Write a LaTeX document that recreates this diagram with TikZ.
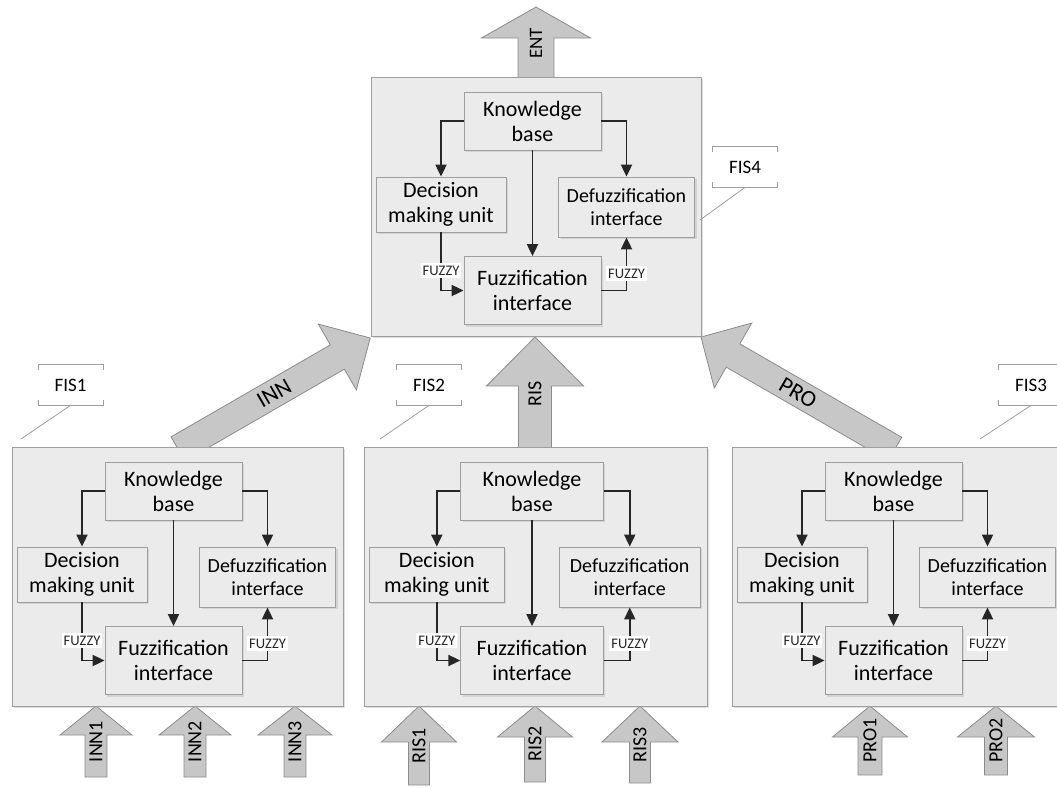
\documentclass[tikz,border=0pt]{standalone}
\usepackage{fontspec}
\setmainfont{Carlito}
\usetikzlibrary{arrows.meta,positioning,shadows}

\begin{document}
\begin{tikzpicture}[x=0.5pt, y=-0.5pt, >={Triangle[length=6pt,width=5.5pt]},
  fisbox/.style={draw=black!38, fill=black!8, anchor=north west, inner sep=0pt, minimum height=129.5pt,
    drop shadow={shadow xshift=1pt, shadow yshift=-1pt, fill=black!30, opacity=0.4}},
  unit/.style={draw=black!38, fill=black!8, align=center, inner sep=1pt, font=\fontsize{11}{12.5}\selectfont,
    drop shadow={shadow xshift=1pt, shadow yshift=-1pt, fill=black!30, opacity=0.4}},
  flow/.style={->, line width=0.95pt, black!85},
  fuzzy/.style={fill=white, inner xsep=1pt, inner ysep=1.5pt, font=\fontsize{7.3}{8}\selectfont},
  tag/.style={minimum width=32pt, minimum height=20pt, inner sep=0pt, font=\fontsize{9.5}{11}\selectfont},
  tagline/.style={draw=black!38, thin},
  fatarrow/.style={draw=black!45, fill=black!22, line join=miter}]
\useasboundingbox (0,0) rectangle (1057,788);

% block arrows between the systems and the inputs
\foreach \tx/\ty/\ang/\len/\sw/\hw/\hl/\rot/\fs/\lab in {
  536/80/90/73/36/109/31/0/9.5/ENT,
  535/450/90/113/33/97/49/0/10/RIS,
  178/449/30/222/28/76/38/0/11.5/INN,
  895/449/150/224/27/75/37/180/11.5/PRO,
  96/777/90/71/22/72/29/0/10/INN1,
  195/777/90/71/22/72/29/0/10/INN2,
  295/777/90/71/22/74/29/0/10/INN3,
  419/785/90/79/21/75/36/0/10/RIS1,
  535/782/90/76/21/75/31/0/10/RIS2,
  640/783/90/77/21/76/36/0/10/RIS3,
  870/775/90/69/24/75/31/0/10/PRO1,
  996/775/90/69/23/77/31/0/10/PRO2}{
  \begin{scope}[shift={(\tx,\ty)}, rotate=\ang]
    \draw[fatarrow] (0,-\sw/2) -- (\len-\hl,-\sw/2) -- (\len-\hl,-\hw/2) -- (\len,0)
      -- (\len-\hl,\hw/2) -- (\len-\hl,\sw/2) -- (0,\sw/2) -- cycle;
    \node[transform shape, rotate=\rot, inner sep=0pt, font=\fontsize{\fs}{12}\selectfont] (a\lab) at (\len/2,0) {\lab};
  \end{scope}
}

% the four fuzzy inference systems
\foreach \i/\bx/\by/\bw/\xs in {1/12/447/331/1, 2/364/447/343/1.04, 3/732/447/330/1, 4/371/77/330/1}{
  \begin{scope}[shift={(\bx,\by)}, xscale=\xs]
    \node[fisbox, minimum width={\bw*0.5pt}] (fis\i) at (0,0) {};
    \node[unit, minimum width={137*\xs*0.5pt}, minimum height=29pt] (kb\i) at (161.5,44) {Knowledge\\base};
    \node[unit, minimum width={130*\xs*0.5pt}, minimum height=27.5pt] (dmu\i) at (70,127.5) {Decision\\making unit};
    \node[unit, minimum width={136*\xs*0.5pt}, minimum height=30pt, font=\fontsize{10}{11.5}\selectfont] (dfi\i) at (255.5,130) {Defuzzification\\interface};
    \node[unit, minimum width={137*\xs*0.5pt}, minimum height=34pt] (fzi\i) at (161.5,213.5) {Fuzzification\\interface};
    \draw[flow] (kb\i.west) -| (dmu\i.north);
    \draw[flow] (kb\i.east) -| (dfi\i.north);
    \draw[flow] (kb\i.south) -- (fzi\i.north);
    \draw[flow] (dmu\i.south) |- node[fuzzy, pos=0.33] {FUZZY} (fzi\i.west);
    \draw[flow] (fzi\i.east) -| node[fuzzy, pos=0.66] {FUZZY} (dfi\i.south);
  \end{scope}
}

% callouts
\foreach \i/\cx/\cy/\ex/\ey in {1/70.5/385/21/439, 2/429/385/380/439, 3/1031/385/980/439, 4/745/167/700/220}{
  \node[tag] (tag\i) at (\cx,\cy) {FIS\i};
  \coordinate (tagend\i) at (\ex,\ey);
  \draw[tagline] ([yshift=-2.5pt]tag\i.north west) -- (tag\i.north west) -- (tag\i.north east) -- ([yshift=-2.5pt]tag\i.north east);
  \draw[tagline] ([yshift=2.5pt]tag\i.south west) -- (tag\i.south west) -- (tag\i.south east) -- ([yshift=2.5pt]tag\i.south east);
  \draw[tagline] (tag\i.south) -- (tagend\i);
}
\end{tikzpicture}
\end{document}
